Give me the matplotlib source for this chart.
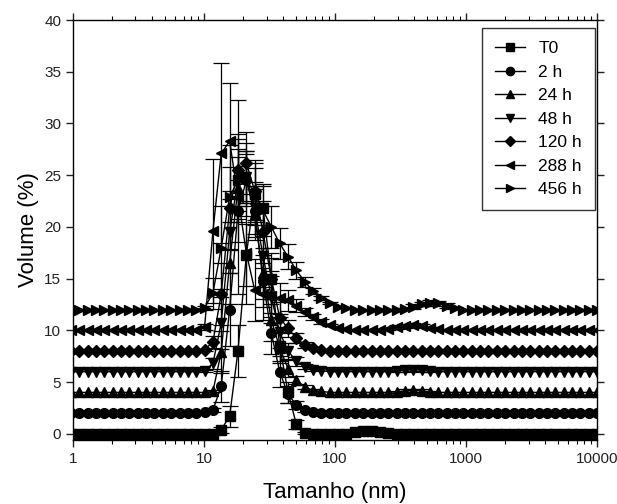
import matplotlib
matplotlib.use('Agg')
import matplotlib.pyplot as plt
from matplotlib.ticker import FixedLocator, FixedFormatter, LogLocator, NullFormatter

plt.rcParams['font.family'] = ['Liberation Sans', 'DejaVu Sans']

# Classes de tamanho (nm)
tamanho = [0.9649, 1.117, 1.294, 1.499, 1.736, 2.01, 2.328, 2.696, 3.122, 3.615,
           4.187, 4.849, 5.615, 6.503, 7.531, 8.721, 10.1, 11.7, 13.54, 15.69,
           18.17, 21.04, 24.36, 28.21, 32.67, 37.84, 43.82, 50.75, 58.77, 68.06,
           78.82, 91.28, 105.7, 122.4, 141.8, 164.2, 190.1, 220.2, 255.0, 295.3,
           342.0, 396.1, 458.7, 531.2, 615.1, 712.4, 825.0, 955.4, 1106, 1281,
           1484, 1718, 1990, 2305, 2669, 3091, 3580, 4145, 4801, 5560,
           6439, 7456, 8635, 10000]

rotulos = ['T0', '2 h', '24 h', '48 h', '120 h', '288 h', '456 h']
deslocamento = [0, 2, 4, 6, 8, 10, 12]

# Volume (%) de cada amostra
vol_t0 = [0, 0, 0, 0, 0, 0, 0, 0, 0, 0, 0, 0, 0, 0, 0,
          0, 0, 0, 0.4, 1.7, 8.0, 17.3, 23.2, 21.8, 15.0, 8.5, 4.0, 0.9, 0.1, 0, 0, 0, 0, 0,
          0.15, 0.3, 0.3, 0.2, 0.05, 0, 0, 0, 0, 0, 0, 0, 0, 0, 0,
          0, 0, 0, 0, 0, 0, 0, 0, 0, 0, 0, 0, 0, 0, 0]
vol_2h = [0, 0, 0, 0, 0, 0, 0, 0, 0, 0, 0, 0, 0, 0, 0,
          0, 0.1, 0.3, 2.6, 10.0, 19.5, 22.5, 19.5, 12.8, 7.7, 4.0, 1.8, 0.8, 0.3, 0.1, 0, 0, 0, 0,
          0, 0, 0, 0, 0, 0, 0, 0, 0, 0, 0, 0, 0, 0, 0,
          0, 0, 0, 0, 0, 0, 0, 0, 0, 0, 0, 0, 0, 0, 0]
vol_24h = [0, 0, 0, 0, 0, 0, 0, 0, 0, 0, 0, 0, 0, 0, 0,
           0, 0, 0.1, 3.9, 12.5, 19.8, 20.8, 17.2, 11.5, 7.0, 4.3, 2.3, 1.2, 0.5, 0.2, 0.1, 0, 0, 0,
           0, 0, 0, 0, 0, 0.05, 0.15, 0.2, 0.15, 0.05, 0, 0, 0, 0, 0,
           0, 0, 0, 0, 0, 0, 0, 0, 0, 0, 0, 0, 0, 0, 0]
vol_48h = [0, 0, 0, 0, 0, 0, 0, 0, 0, 0, 0, 0, 0, 0, 0,
           0, 0.1, 0.8, 4.7, 13.5, 18.5, 18.8, 15.8, 11.2, 7.2, 3.8, 2.0, 1.0, 0.5, 0.2, 0.1, 0, 0, 0,
           0, 0, 0, 0, 0, 0.05, 0.15, 0.2, 0.15, 0.05, 0, 0, 0, 0, 0,
           0, 0, 0, 0, 0, 0, 0, 0, 0, 0, 0, 0, 0, 0, 0]
vol_120h = [0, 0, 0, 0, 0, 0, 0, 0, 0, 0, 0, 0, 0, 0, 0,
            0, 0.1, 0.9, 5.5, 13.8, 17.5, 18.2, 15.5, 11.5, 7.0, 3.2, 2.2, 1.25, 0.6, 0.3, 0.1, 0, 0, 0,
            0, 0, 0, 0, 0, 0, 0, 0, 0, 0, 0, 0, 0, 0, 0,
            0, 0, 0, 0, 0, 0, 0, 0, 0, 0, 0, 0, 0, 0, 0]
vol_288h = [0, 0, 0, 0, 0, 0, 0, 0, 0, 0, 0, 0, 0, 0, 0,
            0, 0.3, 9.6, 17.1, 18.3, 12.9, 7.5, 3.9, 3.5, 3.3, 3.1, 2.9, 2.4, 1.8, 1.3, 0.85, 0.5, 0.25, 0.1,
            0, 0, 0, 0, 0.1, 0.3, 0.45, 0.5, 0.4, 0.2, 0.1, 0, 0, 0, 0,
            0, 0, 0, 0, 0, 0, 0, 0, 0, 0, 0, 0, 0, 0, 0]
vol_456h = [0, 0, 0, 0, 0, 0, 0, 0, 0, 0, 0, 0, 0, 0, 0,
            0, 0.2, 1.6, 6.0, 10.9, 12.5, 12.6, 11.2, 9.6, 8.0, 6.4, 5.1, 3.8, 2.7, 1.8, 1.1, 0.6, 0.3, 0.15,
            0, 0, 0, 0, 0, 0, 0.1, 0.3, 0.55, 0.65, 0.6, 0.4, 0.15, 0, 0,
            0, 0, 0, 0, 0, 0, 0, 0, 0, 0, 0, 0, 0, 0, 0]

# Desvio padrão
err_t0 = [0, 0, 0, 0, 0, 0, 0, 0, 0, 0, 0, 0, 0, 0, 0,
          0, 0, 0, 0.3, 1.0, 2.5, 3.0, 2.5, 2.2, 2.0, 1.5, 1.0, 0.4, 0.1, 0, 0, 0, 0, 0,
          0.1, 0.15, 0.15, 0.1, 0, 0, 0, 0, 0, 0, 0, 0, 0, 0, 0,
          0, 0, 0, 0, 0, 0, 0, 0, 0, 0, 0, 0, 0, 0, 0]
err_2h = [0, 0, 0, 0, 0, 0, 0, 0, 0, 0, 0, 0, 0, 0, 0,
          0, 0.1, 0.2, 1.5, 3.5, 3.0, 2.5, 2.5, 2.5, 2.0, 1.5, 0.8, 0.4, 0.2, 0, 0, 0, 0, 0,
          0, 0, 0, 0, 0, 0, 0, 0, 0, 0, 0, 0, 0, 0, 0,
          0, 0, 0, 0, 0, 0, 0, 0, 0, 0, 0, 0, 0, 0, 0]
err_24h = [0, 0, 0, 0, 0, 0, 0, 0, 0, 0, 0, 0, 0, 0, 0,
           0, 0, 0.1, 2.0, 4.0, 3.0, 2.5, 2.5, 2.5, 2.0, 1.5, 0.8, 0.4, 0.2, 0.1, 0, 0, 0, 0,
           0, 0, 0, 0, 0, 0.1, 0.15, 0.15, 0.15, 0.1, 0, 0, 0, 0, 0,
           0, 0, 0, 0, 0, 0, 0, 0, 0, 0, 0, 0, 0, 0, 0]
err_48h = [0, 0, 0, 0, 0, 0, 0, 0, 0, 0, 0, 0, 0, 0, 0,
           0, 0.1, 0.5, 2.5, 4.0, 3.0, 2.5, 2.5, 3.0, 2.5, 1.5, 0.8, 0.4, 0.2, 0.1, 0, 0, 0, 0,
           0, 0, 0, 0, 0, 0.1, 0.15, 0.15, 0.15, 0.1, 0, 0, 0, 0, 0,
           0, 0, 0, 0, 0, 0, 0, 0, 0, 0, 0, 0, 0, 0, 0]
err_120h = [0, 0, 0, 0, 0, 0, 0, 0, 0, 0, 0, 0, 0, 0, 0,
            0, 0.1, 0.6, 3.0, 4.0, 3.5, 3.0, 3.0, 3.0, 2.5, 1.5, 0.8, 0.5, 0.3, 0.1, 0, 0, 0, 0,
            0, 0, 0, 0, 0, 0, 0, 0, 0, 0, 0, 0, 0, 0, 0,
            0, 0, 0, 0, 0, 0, 0, 0, 0, 0, 0, 0, 0, 0, 0]
err_288h = [0, 0, 0, 0, 0, 0, 0, 0, 0, 0, 0, 0, 0, 0, 0,
            0, 0.3, 7.0, 8.7, 5.6, 9.4, 5.0, 3.0, 2.5, 2.0, 1.5, 1.0, 0.6, 0.4, 0.3, 0.2, 0.1, 0, 0,
            0, 0, 0, 0, 0.1, 0.2, 0.2, 0.2, 0.2, 0.1, 0, 0, 0, 0, 0,
            0, 0, 0, 0, 0, 0, 0, 0, 0, 0, 0, 0, 0, 0, 0]
err_456h = [0, 0, 0, 0, 0, 0, 0, 0, 0, 0, 0, 0, 0, 0, 0,
            0, 0.2, 1.5, 4.0, 5.0, 4.0, 3.5, 3.0, 2.5, 2.0, 1.5, 1.2, 0.8, 0.5, 0.3, 0.2, 0.1, 0, 0,
            0, 0, 0, 0, 0, 0, 0.1, 0.2, 0.2, 0.25, 0.25, 0.2, 0.1, 0, 0,
            0, 0, 0, 0, 0, 0, 0, 0, 0, 0, 0, 0, 0, 0, 0]

volumes = [vol_t0, vol_2h, vol_24h, vol_48h, vol_120h, vol_288h, vol_456h]
erros = [err_t0, err_2h, err_24h, err_48h, err_120h, err_288h, err_456h]
marcadores = ['s', 'o', '^', 'v', 'D', '<', '>']
tam_marc = [7, 7, 7.5, 7.5, 6, 7.5, 7.5]

fig = plt.figure(figsize=(6.17, 5.04), dpi=100)
ax = fig.add_axes([0.1183, 0.127, 0.8493, 0.8333])

for vol, err, off, m, ms, lab in zip(volumes, erros, deslocamento, marcadores, tam_marc, rotulos):
    y = [v + off for v in vol]
    ax.plot(tamanho, y, color='black', lw=1.0, marker=m, ms=ms, label=lab)
    # barras de erro somente onde há desvio
    xe = [x for x, e in zip(tamanho, err) if e > 0]
    ye = [yy for yy, e in zip(y, err) if e > 0]
    ee = [e for e in err if e > 0]
    ax.errorbar(xe, ye, yerr=ee, fmt='none', ecolor='black', elinewidth=0.9,
                capsize=6, capthick=0.9)

ax.set_xscale('log')
ax.set_xlim(1, 10000)
ax.set_ylim(-0.6, 40)
ax.xaxis.set_major_locator(FixedLocator([1, 10, 100, 1000, 10000]))
ax.xaxis.set_major_formatter(FixedFormatter(['1', '10', '100', '1000', '10000']))
ax.xaxis.set_minor_locator(LogLocator(base=10, subs=range(2, 10)))
ax.xaxis.set_minor_formatter(NullFormatter())
ax.set_yticks(range(0, 41, 5))

ax.tick_params(which='major', direction='out', length=5, width=1, labelsize=11,
               top=True, right=True, colors='#222222')
ax.tick_params(which='minor', direction='out', length=3, width=0.8, top=True, right=True)
for s in ax.spines.values():
    s.set_linewidth(1.0)

ax.set_xlabel('Tamanho (nm)', fontsize=16, labelpad=12)
ax.set_ylabel('Volume (%)', fontsize=16, labelpad=4)

leg = ax.legend(loc='upper right', bbox_to_anchor=(0.996, 0.981), borderaxespad=0,
                fontsize=12.5, frameon=True, fancybox=False, edgecolor='black',
                markerscale=0.85, handlelength=1.75, handletextpad=0.75,
                labelspacing=0.48, borderpad=0.75)
leg.get_frame().set_linewidth(1.0)

plt.savefig('out.png', dpi=100)
